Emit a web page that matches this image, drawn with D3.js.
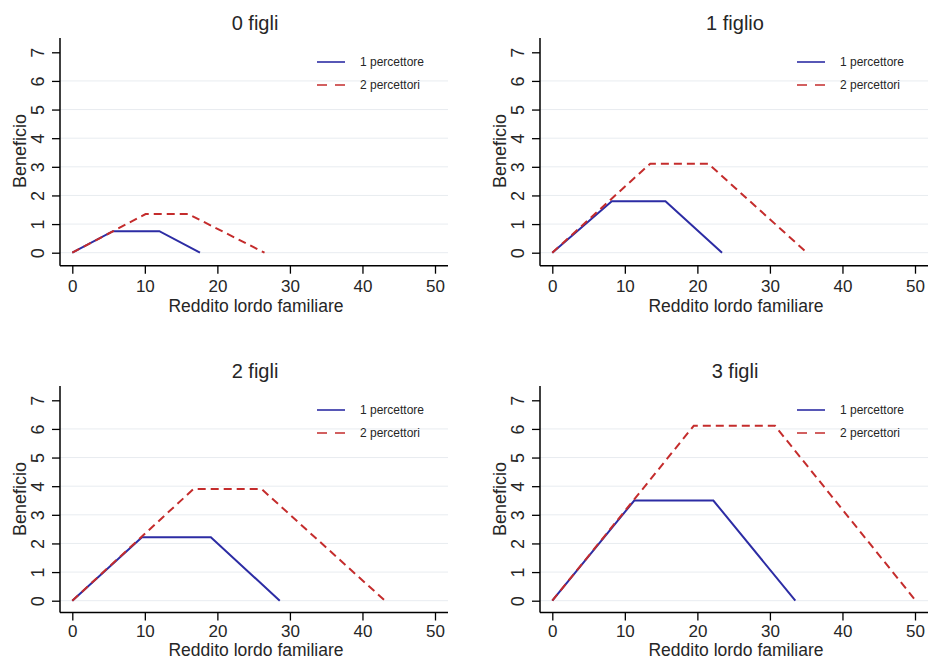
<!DOCTYPE html>
<html>
<head>
<meta charset="utf-8">
<script src="https://cdn.jsdelivr.net/npm/d3@7"></script>
<style>
  body { margin: 0; background: #fff; }
  svg { display: block; font-family: "Liberation Sans", Arial, sans-serif; }
</style>
</head>
<body>
<svg id="chart" width="929" height="660"></svg>
<script>
// ---- data ----
const panelTitles = ["0 figli", "1 figlio", "2 figli", "3 figli"];
const seriesNames = ["1 percettore", "2 percettori"];
const xTicks = [0, 10, 20, 30, 40, 50];
const yTicks = [0, 1, 2, 3, 4, 5, 6, 7];
const xLabel = "Reddito lordo familiare";
const yLabel = "Beneficio";

// vertices [reddito, beneficio]
const onePerc0 = [[0, 0], [5.6, 0.75], [12.0, 0.75], [17.6, 0]];
const twoPerc0 = [[0, 0], [10.1, 1.35], [16.0, 1.35], [26.5, 0]];
const onePerc1 = [[0, 0], [8.2, 1.8], [15.6, 1.8], [23.4, 0]];
const twoPerc1 = [[0, 0], [13.5, 3.11], [21.5, 3.11], [35.1, 0]];
const onePerc2 = [[0, 0], [9.6, 2.22], [19.1, 2.22], [28.6, 0]];
const twoPerc2 = [[0, 0], [16.7, 3.9], [26.1, 3.9], [43.1, 0]];
const onePerc3 = [[0, 0], [11.3, 3.5], [22.2, 3.5], [33.5, 0]];
const twoPerc3 = [[0, 0], [19.5, 6.11], [30.7, 6.11], [50.1, 0]];

const onePercSeries = [onePerc0, onePerc1, onePerc2, onePerc3];
const twoPercSeries = [twoPerc0, twoPerc1, twoPerc2, twoPerc3];

// ---- layout ----
const svg = d3.select("#chart");
const colors = ["#2c2ca4", "#c42c2c"];
const panels = [
  {ox: 0, oy: 0, axB: 265.7, pad: 6.5, lab: 312},
  {ox: 480, oy: 0, axB: 265.7, pad: 6.5, lab: 312},
  {ox: 0, oy: 348, axB: 612.5, pad: 4, lab: 656},
  {ox: 480, oy: 348, axB: 612.5, pad: 4, lab: 656}
];
const txt = "#262626";

panels.forEach((p, i) => {
  const axisX = 60 + p.ox, axisRight = 448 + p.ox;
  const axisTop = 38 + p.oy, axisBottom = p.axB;
  const x = d3.scaleLinear().domain([0, 50]).range([72.3 + p.ox, 435 + p.ox]);
  const y = d3.scaleLinear().domain([0, 7]).range([252.7 + p.oy, 52.3 + p.oy]);
  const g = svg.append("g");

  // gridlines
  g.selectAll("line.grid").data(yTicks.filter(d => d < 7)).join("line")
    .attr("x1", axisX).attr("x2", axisRight)
    .attr("y1", d => y(d)).attr("y2", d => y(d))
    .attr("stroke", "#e8ecf0").attr("stroke-width", 1);

  // y axis
  const ya = g.append("g").attr("transform", `translate(${axisX},0)`)
    .call(d3.axisLeft(y).tickValues(yTicks).tickFormat(d3.format("d")).tickSize(8));
  ya.select(".domain").attr("d", `M0,${axisTop}V${axisBottom}`).attr("stroke", "#000").attr("stroke-width", 1.5);
  ya.selectAll(".tick line").attr("stroke", "#000").attr("stroke-width", 1.3);
  ya.selectAll(".tick text")
    .attr("x", 0).attr("y", 0).attr("dy", "0.35em")
    .attr("transform", "translate(-22,0) rotate(-90)")
    .attr("text-anchor", "middle")
    .style("font-size", "18px").attr("fill", txt);

  // x axis
  const xa = g.append("g").attr("transform", `translate(0,${axisBottom})`)
    .call(d3.axisBottom(x).tickValues(xTicks).tickSize(8).tickPadding(p.pad));
  xa.select(".domain").attr("d", `M${axisX},0H${axisRight}`).attr("stroke", "#000").attr("stroke-width", 1.5);
  xa.selectAll(".tick line").attr("stroke", "#000").attr("stroke-width", 1.3);
  xa.selectAll(".tick text").style("font-size", "17px").attr("fill", txt);

  // title
  g.append("text").attr("x", 255 + p.ox).attr("y", 30 + p.oy)
    .attr("text-anchor", "middle").style("font-size", "20px").attr("fill", txt)
    .text(panelTitles[i]);
  // axis labels
  g.append("text").attr("x", 256 + p.ox).attr("y", p.lab)
    .attr("text-anchor", "middle").style("font-size", "17.5px").attr("fill", txt)
    .text(xLabel);
  g.append("text").attr("transform", `translate(${26 + p.ox},${151 + p.oy}) rotate(-90)`)
    .attr("text-anchor", "middle").style("font-size", "18px").attr("fill", txt)
    .text(yLabel);

  // lines
  const line = d3.line().x(d => x(d[0])).y(d => y(d[1]));
  g.append("path").datum(onePercSeries[i]).attr("d", line)
    .attr("fill", "none").attr("stroke", colors[0]).attr("stroke-width", 2);
  g.append("path").datum(twoPercSeries[i]).attr("d", line)
    .attr("fill", "none").attr("stroke", colors[1]).attr("stroke-width", 2)
    .attr("stroke-dasharray", "8,5");

  // legend
  const lx = 317 + p.ox, ly = 62 + p.oy;
  seriesNames.forEach((name, k) => {
    const yy = ly + k * 23;
    g.append("line").attr("x1", lx).attr("x2", lx + 28).attr("y1", yy).attr("y2", yy)
      .attr("stroke", colors[k]).attr("stroke-width", 1.6)
      .attr("stroke-dasharray", k === 1 ? "10,8" : null);
    g.append("text").attr("x", lx + 43).attr("y", yy + 4)
      .style("font-size", "12px").attr("fill", txt).text(name);
  });
});
</script>
</body>
</html>
